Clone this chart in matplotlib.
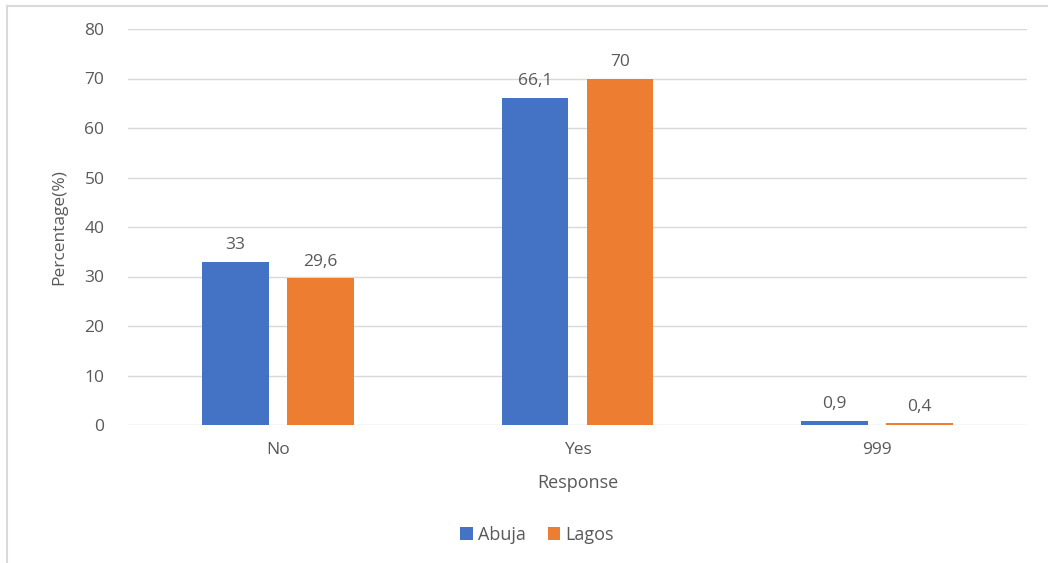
import numpy as np
import matplotlib
matplotlib.use('Agg')
from matplotlib import pyplot as plt
from matplotlib.lines import Line2D

categories = ['No', 'Yes', '999']
abuja = [33, 66.1, 0.9]
lagos = [29.6, 70, 0.4]
yticks = [0, 10, 20, 30, 40, 50, 60, 70, 80]

plt.rcParams['font.family'] = ['Open Sans', 'DejaVu Sans']
txt = '#595959'
blue = '#4472c4'
orange = '#ed7d31'

W, H = 1048, 563
fig = plt.figure(figsize=(W / 100, H / 100), dpi=100)
ax = fig.add_axes([128 / W, 1 - 425 / H, (1027 - 128) / W, (425 - 29) / H])

x = np.arange(len(categories))
w = 0.223
off = 0.142
b1 = ax.bar(x - off, abuja, w, color=blue, label='Abuja', zorder=3)
b2 = ax.bar(x + off, lagos, w, color=orange, label='Lagos', zorder=3)

def fmt(v):
    return ('%g' % v).replace('.', ',')

for bars, vals in ((b1, abuja), (b2, lagos)):
    ax.bar_label(bars, labels=[fmt(v) for v in vals], padding=6,
                 fontsize=12.5, color=txt)

ax.set_xlim(-0.5, 2.5)
ax.set_ylim(0, 80)
ax.set_yticks(yticks)
ax.set_xticks(x)
ax.set_xticklabels(categories)
ax.tick_params(axis='both', length=0, labelsize=12.5, labelcolor=txt)
ax.tick_params(axis='y', pad=17)
ax.tick_params(axis='x', pad=12)
ax.grid(axis='y', color='#d9d9d9', linewidth=1, zorder=0)
for s in ax.spines.values():
    s.set_visible(False)

ax.set_ylabel('Percentage(%)', fontsize=12.5, color=txt, labelpad=12)
ax.set_xlabel('Response', fontsize=13, color=txt, labelpad=12)

ax.legend(loc='center', bbox_to_anchor=(537 / W, 1 - 535 / H),
          bbox_transform=fig.transFigure, ncol=2, frameon=False,
          fontsize=13, labelcolor=txt, handlelength=0.7, handleheight=0.7,
          handletextpad=0.3, columnspacing=1.2)

# light frame along the top and left edges
fig.add_artist(Line2D([7 / W, 7 / W], [0, 1 - 6 / H], transform=fig.transFigure,
                      color='#d9d9d9', linewidth=1.5))
fig.add_artist(Line2D([7 / W, 1], [1 - 6 / H, 1 - 6 / H], transform=fig.transFigure,
                      color='#d9d9d9', linewidth=1.5))

fig.savefig('out.png', dpi=100)
